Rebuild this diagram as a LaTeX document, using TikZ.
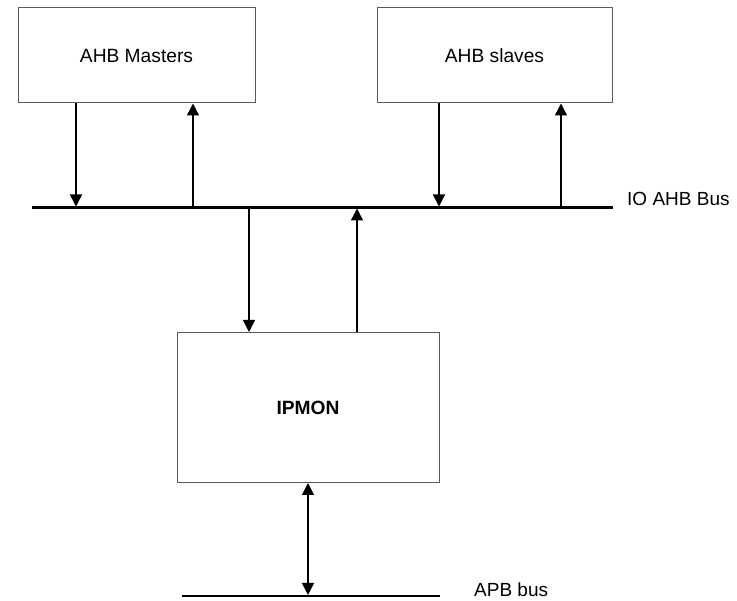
\documentclass[tikz,border=0pt]{standalone}
\usepackage{fontspec}
\setmainfont{Liberation Sans}
\usetikzlibrary{arrows.meta}
\begin{document}
\begin{tikzpicture}[x=1pt,y=-1pt,
  tip/.tip={Triangle[length=12pt,width=12pt]},
  block/.style={draw=black!65, line width=1pt, fill=white, inner sep=0pt,
    font=\fontsize{19.2}{22}\selectfont},
  busline/.style={line width=2.2pt},
  sig/.style={line width=1.4pt, -tip},
  sigboth/.style={line width=1.4pt, tip-tip},
  buslabel/.style={anchor=base west, inner sep=0pt, font=\fontsize{19}{22}\selectfont}]
  % page area
  \fill[white] (0,0) rectangle (737,601);
  \useasboundingbox (0,0) rectangle (737,601);

  % blocks
  \node[block, minimum width=237pt, minimum height=95pt] (mast) at (136.5,55.5) {AHB Masters};
  \node[block, minimum width=235pt, minimum height=95pt] (slv) at (494.5,55.5) {AHB slaves};
  \node[block, minimum width=262pt, minimum height=150pt] (ipm) at (308,407.5) {\textbf{IPMON}};

  % IO AHB bus
  \coordinate (ahbL) at (32,207.5);
  \coordinate (ahbR) at (613,207.5);
  \draw[busline] (ahbL) -- (ahbR);
  \node[buslabel] (ahblbl) at (627,206) {IO AHB Bus};

  % APB bus
  \coordinate (apbL) at (182,596);
  \coordinate (apbR) at (440,596);
  \draw[busline] (apbL) -- (apbR);
  \node[buslabel] (apblbl) at (474,596.5) {APB bus};

  % taps on the AHB bus
  \coordinate (t1) at (76,206.5);
  \coordinate (t2) at (193,206.5);
  \coordinate (t3) at (439,206.5);
  \coordinate (t4) at (561,206.5);
  \coordinate (t5) at (249,208.5);
  \coordinate (t6) at (357,208.5);
  \coordinate (t7) at (308,595);

  % masters <-> bus
  \draw[sig] (mast.south -| t1) -- (t1);
  \draw[sig] (t2) -- (mast.south -| t2);
  % slaves <-> bus
  \draw[sig] (slv.south -| t3) -- (t3);
  \draw[sig] (t4) -- (slv.south -| t4);
  % bus <-> IPMON
  \draw[sig] (t5) -- (ipm.north -| t5);
  \draw[sig] (ipm.north -| t6) -- (t6);
  % IPMON <-> APB
  \draw[sigboth] (ipm.south) -- (t7);
\end{tikzpicture}
\end{document}
